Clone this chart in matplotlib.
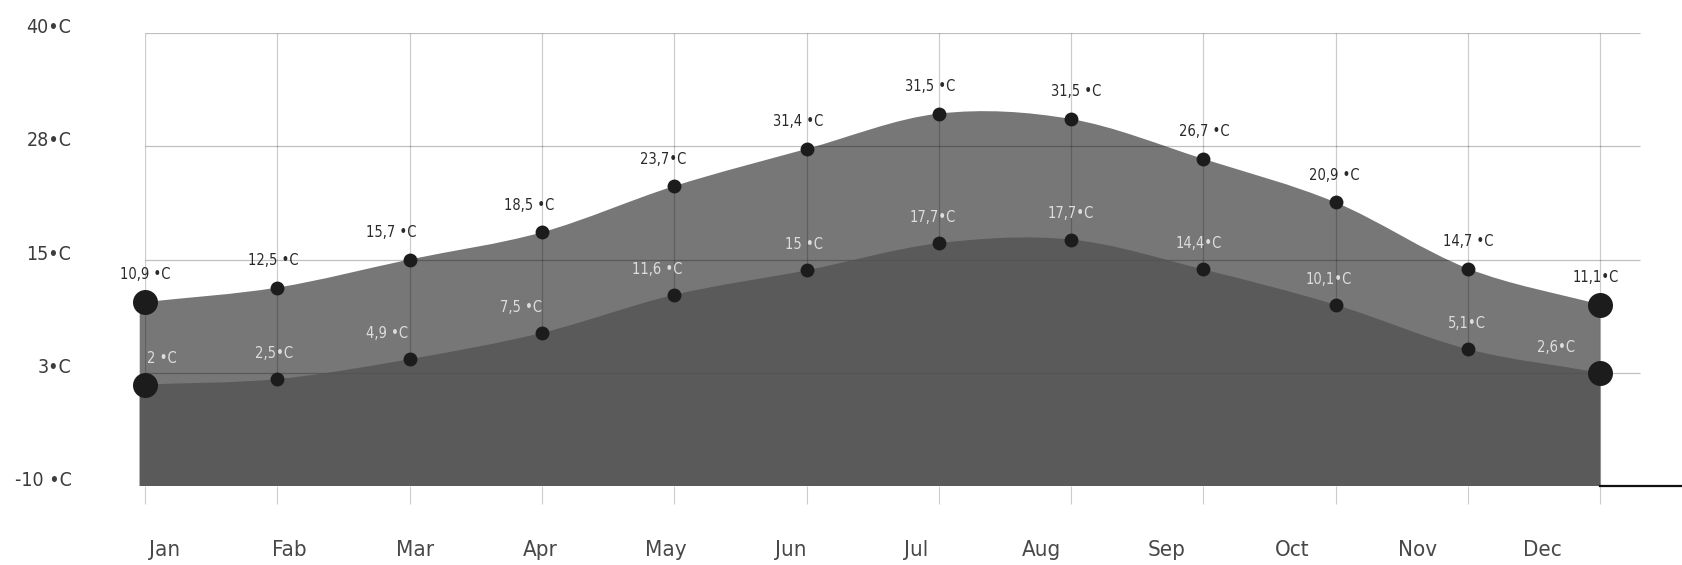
import matplotlib.pyplot as plt
from matplotlib.path import Path
from matplotlib.patches import PathPatch

months = ['Jan', 'Fab', 'Mar', 'Apr', 'May', 'Jun', 'Jul', 'Aug', 'Sep', 'Oct', 'Nov', 'Dec']
high = [10.3, 11.9, 15.0, 18.0, 23.1, 27.2, 31.1, 30.5, 26.1, 21.3, 14.0, 10.0]
low = [1.2, 1.8, 4.0, 6.9, 11.1, 13.8, 16.8, 17.2, 13.9, 10.0, 5.1, 2.5]
high_labels = ['10,9 •C', '12,5 •C', '15,7 •C', '18,5 •C', '23,7•C', '31,4 •C',
               '31,5 •C', '31,5 •C', '26,7 •C', '20,9 •C', '14,7 •C', '11,1•C']
low_labels = ['2 •C', '2,5•C', '4,9 •C', '7,5 •C', '11,6 •C', '15 •C',
              '17,7•C', '17,7•C', '14,4•C', '10,1•C', '5,1•C', '2,6•C']
y_ticks = [-10, 2.5, 15, 27.5, 40]
y_tick_labels = ['-10 •C', '3•C', '15•C', '28•C', '40•C']

plt.rcParams['font.family'] = ['DejaVu Sans']
plt.rcParams['font.stretch'] = 'condensed'

W, H = 1682, 565
x0_px, step_px = 145, 132.3
top_px, base_px = 33, 486

fig = plt.figure(figsize=(W / 100, H / 100), dpi=100)
ax = fig.add_axes([x0_px / W, (H - base_px) / H, (W - x0_px) / W, (base_px - top_px) / H])
ax.set_xlim(0, (W - x0_px) / step_px)
ax.set_ylim(-10, 40)
for s in ax.spines.values():
    s.set_visible(False)

xs = list(range(len(months)))


def smooth_area(ys, base=-10, left=-0.04):
    # catmull-rom style tangents turned into bezier control points
    n = len(ys)
    m = []
    for i in range(n):
        if i == 0:
            m.append(ys[1] - ys[0])
        elif i == n - 1:
            m.append(ys[-1] - ys[-2])
        else:
            m.append((ys[i + 1] - ys[i - 1]) / 2)
    verts = [(left, base), (left, ys[0]), (0, ys[0])]
    codes = [Path.MOVETO, Path.LINETO, Path.LINETO]
    for i in range(n - 1):
        verts += [(i + 1 / 3, ys[i] + m[i] / 3),
                  (i + 1 - 1 / 3, ys[i + 1] - m[i + 1] / 3),
                  (i + 1, ys[i + 1])]
        codes += [Path.CURVE4] * 3
    verts += [(n - 1, base), (left, base)]
    codes += [Path.LINETO, Path.CLOSEPOLY]
    return Path(verts, codes)


ax.add_patch(PathPatch(smooth_area(high), facecolor='#777777', edgecolor='none', zorder=1, clip_on=False))
ax.add_patch(PathPatch(smooth_area(low), facecolor='#5a5a5a', edgecolor='none', zorder=1.2, clip_on=False))

# grid sits between the two areas so it fades out in the dark one
ax.hlines(y_ticks, 0, 11.3, color='black', alpha=0.2, lw=0.9, zorder=1.1)
ax.vlines(xs, -10, 40, color='black', alpha=0.2, lw=0.9, zorder=1.1)
ax.hlines(y_ticks[1:], 0, 11.3, color='black', alpha=0.06, lw=0.9, zorder=1.3)
ax.plot([11, ax.get_xlim()[1]], [-10, -10], color='#111111', lw=1.6, zorder=3, clip_on=False)

ax.set_yticks(y_ticks)
ax.set_yticklabels(y_tick_labels, va='baseline')
ax.tick_params(axis='y', length=0, pad=53, labelsize=14, labelcolor='#3c3c3c')
ax.set_xticks(xs)
ax.set_xticklabels([''] * len(xs))
ax.tick_params(axis='x', length=13, width=0.8, color='#cccccc', direction='out')

# month names sit on their own spacing, a bit off the grid
for i, m in enumerate(months):
    ax.annotate(m, (0.145 + i * 0.947, 0), xycoords=ax.get_xaxis_transform(),
                xytext=(0, -46), textcoords='offset points', ha='center', va='center',
                fontsize=16, color='#484848', annotation_clip=False)

sizes = [18 if i in (0, len(xs) - 1) else 10 for i in xs]
for i in xs:
    ax.plot(xs[i], high[i], 'o', ms=sizes[i], color='#1c1c1c', mec='none', zorder=4, clip_on=False)
    ax.plot(xs[i], low[i], 'o', ms=sizes[i], color='#1c1c1c', mec='none', zorder=4, clip_on=False)

hi_dx = [0, -3, -13, -9, -8, -6, -6, 4, 1, -1, 0, -3]
lo_dx = [12, -2, -16, -15, -12, -2, -4, 0, -3, -5, -1, -32]
for i in xs:
    ax.annotate(high_labels[i], (xs[i], high[i]), xytext=(hi_dx[i], 19.5), textcoords='offset points',
                ha='center', va='center', fontsize=10.5, color='#2a2a2a', zorder=5)
    ax.annotate(low_labels[i], (xs[i], low[i]), xytext=(lo_dx[i], 18.5), textcoords='offset points',
                ha='center', va='center', fontsize=10.5, color='#dddddd', zorder=5)

plt.savefig('out.png', dpi=100)
